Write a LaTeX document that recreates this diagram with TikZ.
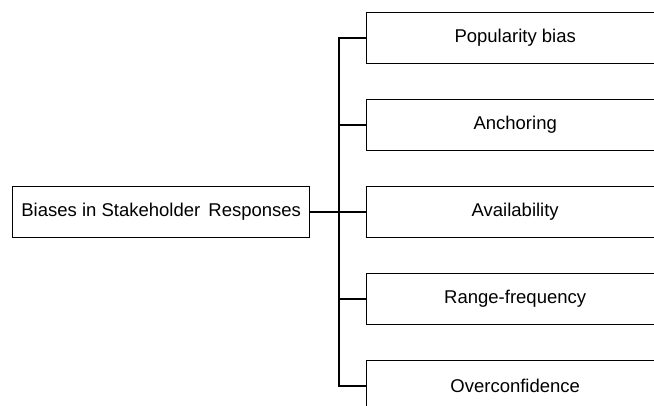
\documentclass[tikz,border=0pt]{standalone}
\usepackage{fontspec}
\setmainfont{Liberation Sans}
\begin{document}
\begin{tikzpicture}[x=1pt,y=-1pt,
  box/.style={draw=black,line width=1.4pt,minimum width=297pt,minimum height=51pt,inner sep=0pt,font=\fontsize{18.5}{21}\selectfont,anchor=west},
  conn/.style={draw=black,line width=1.4pt}]
\useasboundingbox (0,0) rectangle (654,406);
\clip (0,0) rectangle (654,406);
\node[box] (root) at (12,212) {Biases in Stakeholder\hspace{3pt} Responses};
\node[box] (c1) at (366,38) {Popularity bias};
\node[box] (c2) at (366,125) {Anchoring};
\node[box] (c3) at (366,212) {Availability};
\node[box] (c4) at (366,299) {Range-frequency};
\node[box] (c5) at (366,386) {Overconfidence};
\coordinate (t) at (339,212);
\draw[conn] (root.east) -- (t);
\draw[conn] (c1.west) -| (t);
\draw[conn] (c2.west) -| (t);
\draw[conn] (c3.west) -| (t);
\draw[conn] (c4.west) -| (t);
\draw[conn] (c5.west) -| (t);
\end{tikzpicture}
\end{document}
